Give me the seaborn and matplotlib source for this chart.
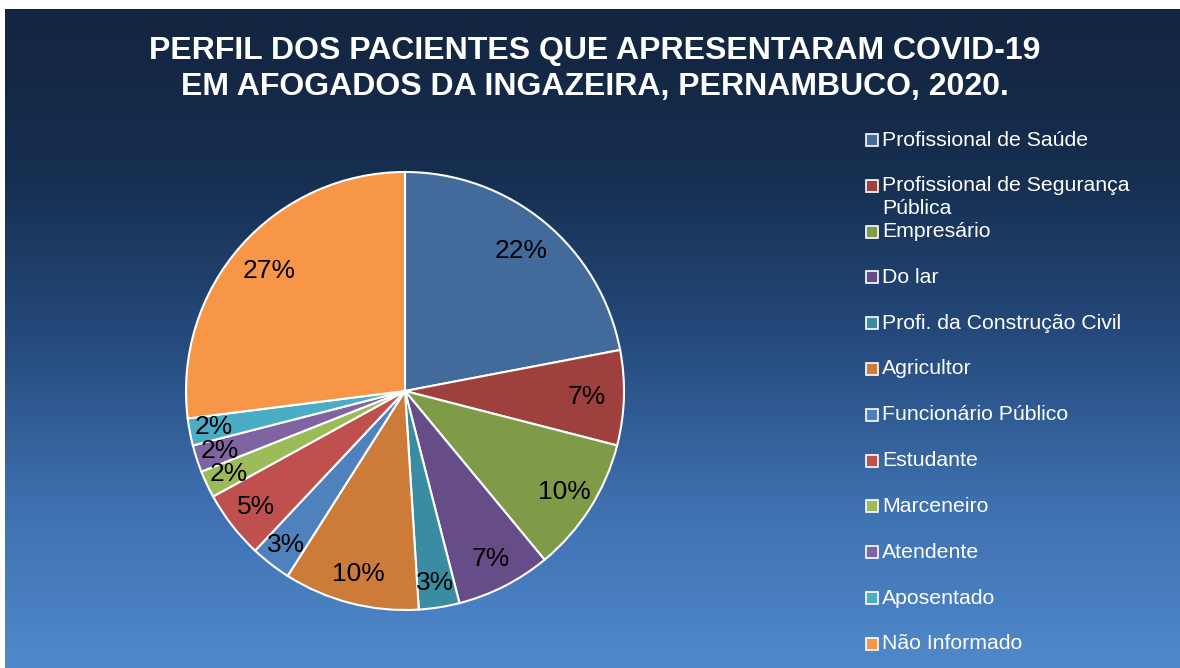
import numpy as np
import seaborn as sns
import matplotlib.pyplot as plt
from matplotlib.colors import LinearSegmentedColormap
from matplotlib.patches import Rectangle

# data
categorias = ['Profissional de Saúde', 'Profissional de Segurança\nPública', 'Empresário',
              'Do lar', 'Profi. da Construção Civil', 'Agricultor', 'Funcionário Público',
              'Estudante', 'Marceneiro', 'Atendente', 'Aposentado', 'Não Informado']
percentuais = [22, 7, 10, 7, 3, 10, 3, 5, 2, 2, 2, 27]
cores = ['#426A9B', '#9E413E', '#809B48', '#664D87', '#3A8CA3', '#CC7B38',
         '#4F81BD', '#C0504D', '#9BBB59', '#8064A2', '#4BACC6', '#F79646']
titulo = 'PERFIL DOS PACIENTES QUE APRESENTARAM COVID-19\nEM AFOGADOS DA INGAZEIRA, PERNAMBUCO, 2020.'

sns.set_style('white')
plt.rcParams['font.family'] = ['Liberation Sans', 'DejaVu Sans']

W, H = 1180, 668
fig = plt.figure(figsize=(W / 100, H / 100), dpi=100)
fig.patch.set_facecolor('white')

# gradient background
bg = fig.add_axes([5 / W, 0, 1 - 5 / W, 1 - 9 / H])
grad = LinearSegmentedColormap.from_list('bg', [
    (0.0, '#13253F'), (0.25, '#162E50'), (0.5, '#254A7C'),
    (0.75, '#3E70AF'), (1.0, '#5089CB')])
bg.imshow(np.linspace(0, 1, 256).reshape(-1, 1), aspect='auto', cmap=grad,
          extent=[0, 1, 0, 1], origin='upper')
bg.set_axis_off()

# title
fig.text(595 / W, 1 - 69 / H, titulo, ha='center', va='center', color='white',
         fontsize=23, fontweight='bold', linespacing=1.22)

# pie
cx, cy, r = 405, 391, 219
ax = fig.add_axes([(cx - r) / W, 1 - (cy + r) / H, 2 * r / W, 2 * r / H])
wedges, texts, autotexts = ax.pie(
    percentuais, colors=sns.color_palette(cores), startangle=90, counterclock=False,
    autopct='%1.0f%%', pctdistance=0.83,
    wedgeprops=dict(edgecolor='white', linewidth=1.5),
    textprops=dict(color='black', fontsize=19))
# labels in the lower half sit a bit further out
for w, t in zip(percentuais, autotexts):
    x, y = t.get_position()
    if w <= 3:
        t.set_position((x * 1.07, y * 1.07))
    elif y < -0.3:
        t.set_position((x * 1.04, y * 1.04))
ax.set_xlim(-1, 1)
ax.set_ylim(-1, 1)
ax.set_aspect('equal')

# legend
y0, dy = 140, 45.8
for i, (lab, c) in enumerate(zip(categorias, cores)):
    y = y0 + dy * i
    fig.patches.append(Rectangle((866 / W, 1 - (y + 6) / H), 12 / W, 12 / H,
                                 transform=fig.transFigure, facecolor=c,
                                 edgecolor='white', linewidth=1.2))
    for j, linha in enumerate(lab.split('\n')):
        fig.text(882 / W, 1 - (y + 23 * j) / H, linha, color='white',
                 fontsize=15.3, va='center', ha='left')

fig.savefig('out.png', dpi=100)
